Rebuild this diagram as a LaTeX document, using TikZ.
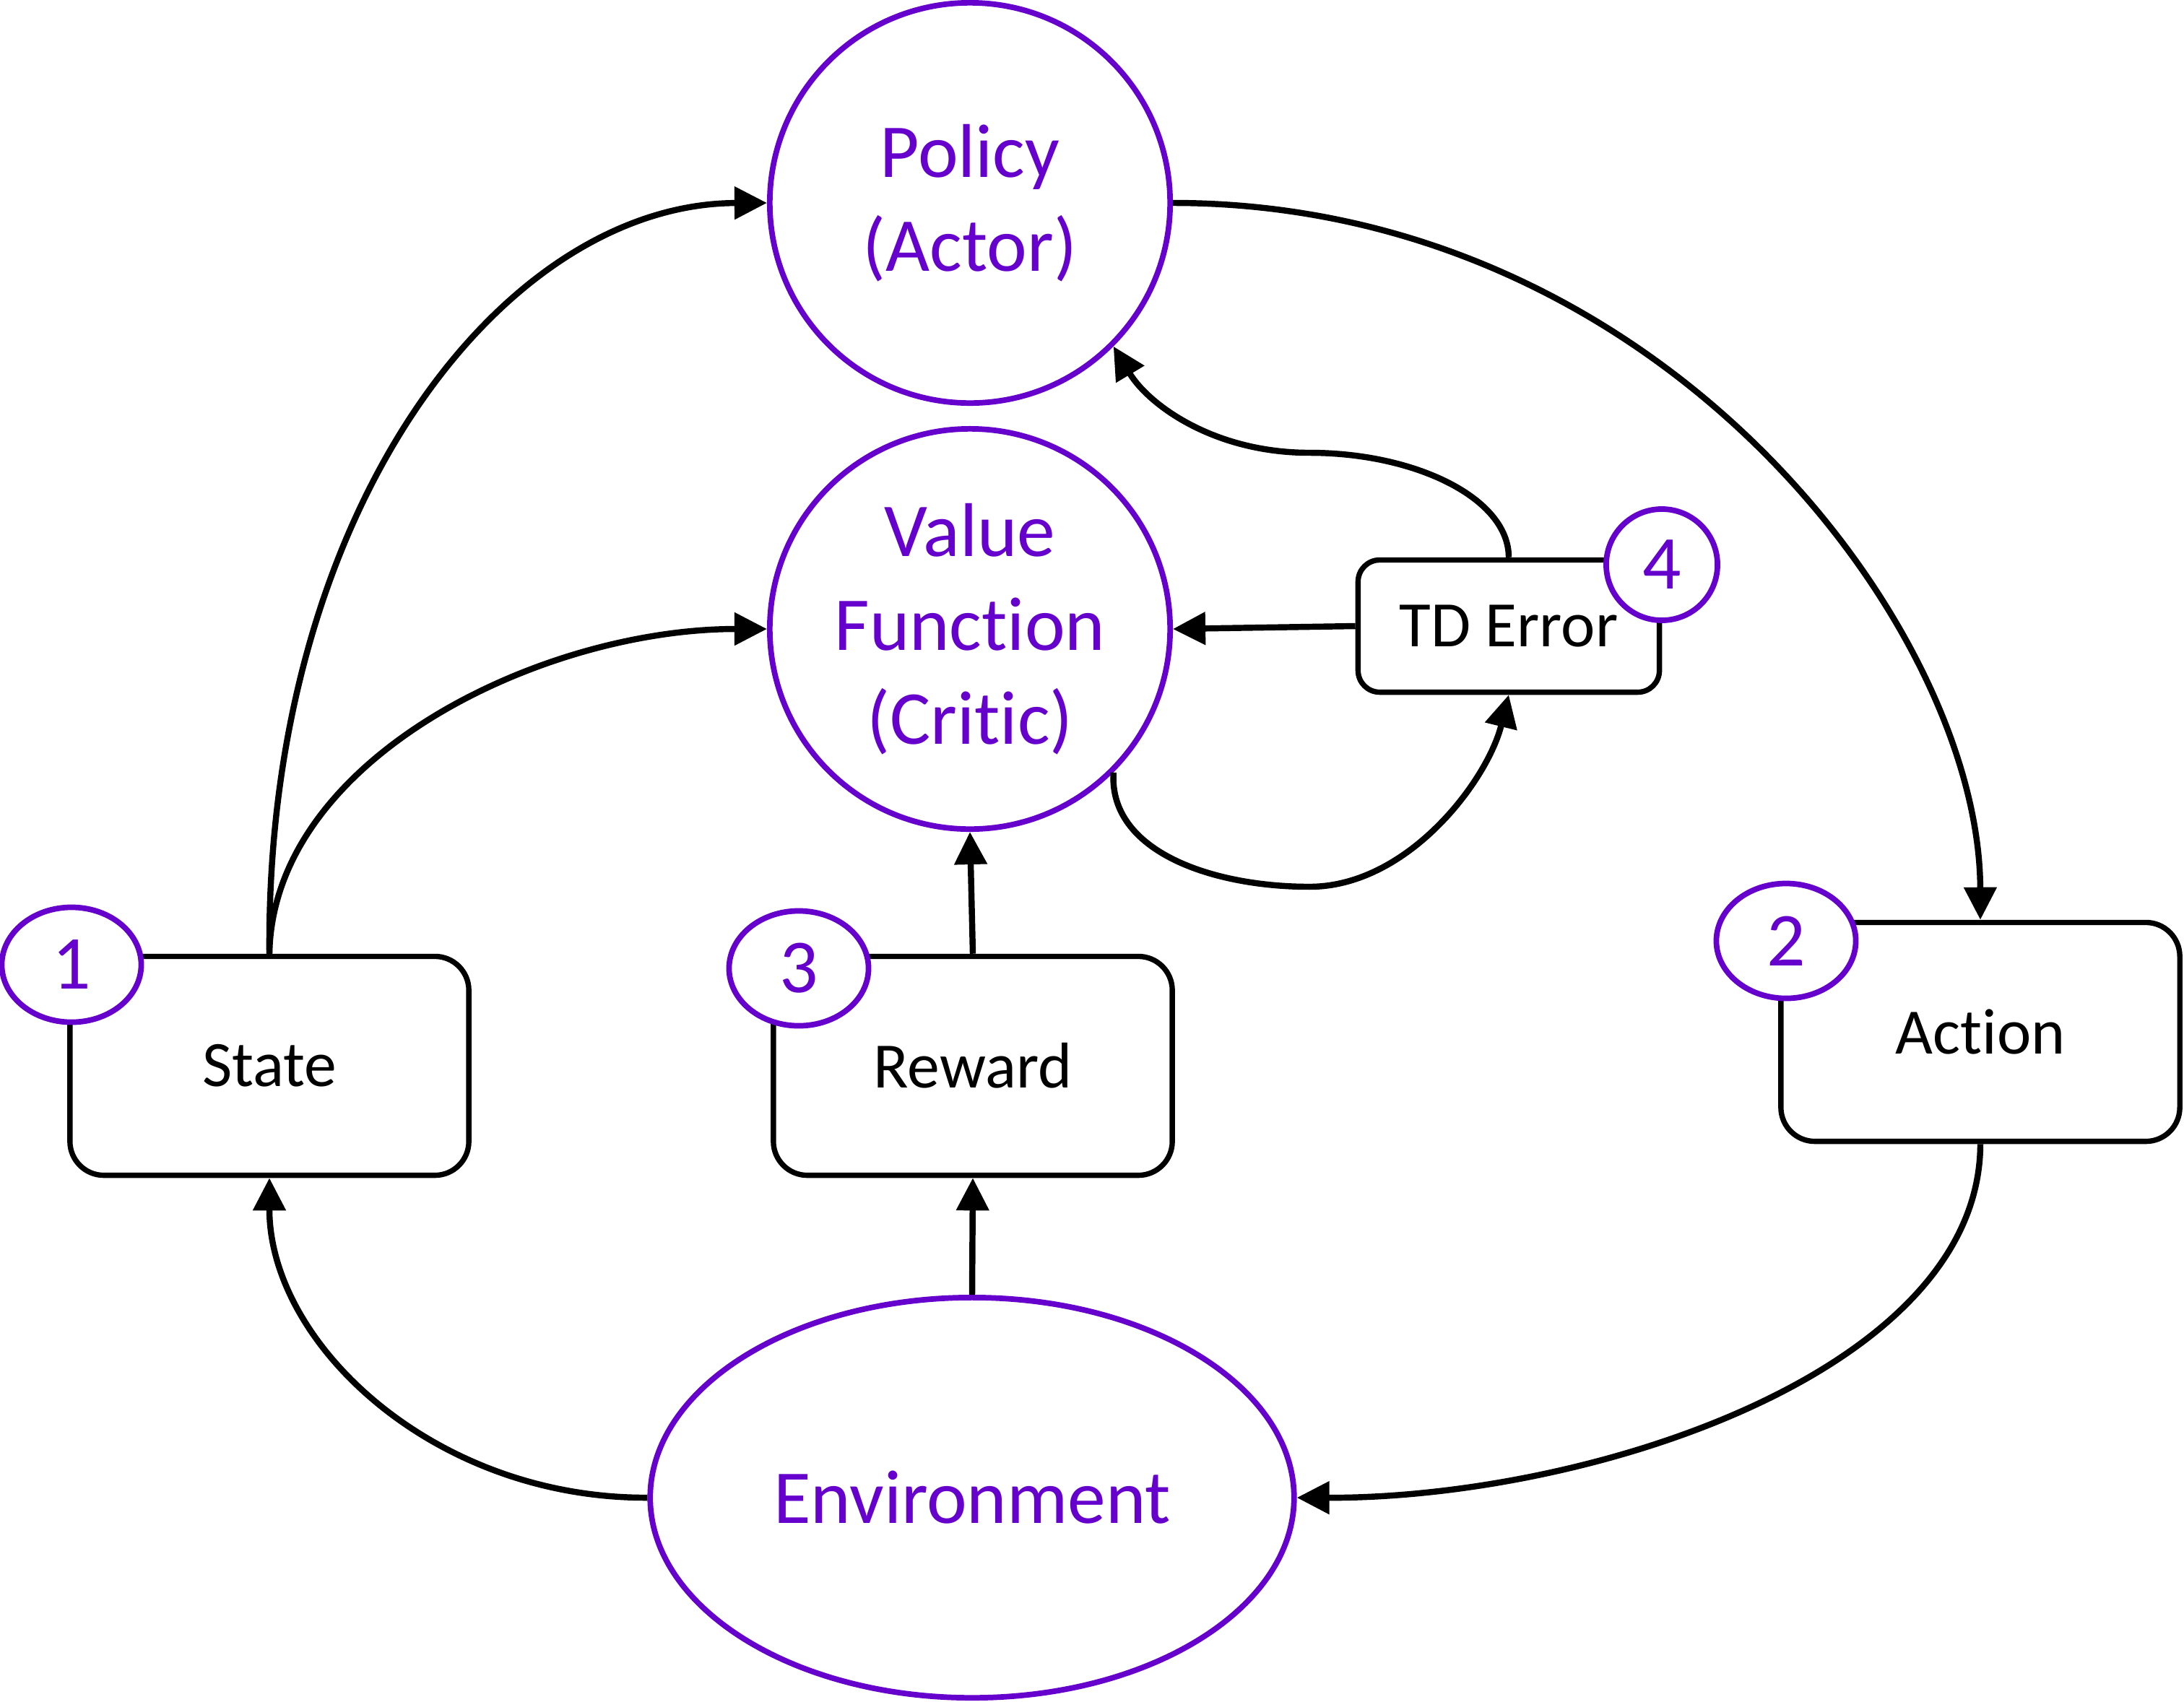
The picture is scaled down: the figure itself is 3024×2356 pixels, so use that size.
\documentclass[tikz,border=0pt]{standalone}
\usepackage{fontspec}
\setmainfont{Carlito}[Ligatures=CommonOff]
\usetikzlibrary{arrows.meta,shapes.geometric}
\definecolor{vio}{RGB}{102,0,204}
\begin{document}
\begin{tikzpicture}[x=0.01cm,y=-0.01cm,
  big/.style={circle,draw=vio,line width=2.2pt,text=vio,minimum size=5.54cm,inner sep=0pt,align=center,font=\fontsize{30}{37}\selectfont},
  env/.style={ellipse,draw=vio,line width=2.2pt,text=vio,minimum width=8.91cm,minimum height=5.54cm,inner sep=0pt,font=\fontsize{30}{37}\selectfont},
  box/.style={draw,line width=2.1pt,rounded corners=0.47cm,minimum width=5.52cm,minimum height=3.03cm,inner sep=0pt,font=\fontsize{25.5}{31}\selectfont},
  badge/.style={ellipse,draw=vio,fill=white,line width=2.2pt,text=vio,minimum width=1.93cm,minimum height=1.59cm,inner sep=0pt,font=\fontsize{30}{37}\selectfont},
  conn/.style={line width=2.4pt,-{Triangle[length=12.8pt,width=12.5pt]}}
]
\useasboundingbox (0,0) rectangle (3024,2356);
\node[big] (policy) at (1343,281) {Policy\\(Actor)};
\node[big] (value) at (1343,871) {Value\\Function\\(Critic)};
\node[env] (env) at (1346,2074) {Environment};
\node[box] (state) at (373,1476) {State};
\node[box] (reward) at (1347,1476) {Reward};
\node[box] (action) at (2742,1429) {Action};
\node[box,minimum width=4.17cm,minimum height=1.83cm,rounded corners=0.3cm] (td) at (2089,867) {TD Error};

\draw[conn] (state.north) .. controls (368,700) and (700,282) .. (policy.west);
\draw[conn] (state.north) .. controls (378,1050) and (750,871) .. (value.west);
\draw[conn] (policy.east) .. controls (2300,281) and (2741,870) .. (action.north);
\draw[conn] (action.south) .. controls (2741,1900) and (2200,2075) .. (env.east);
\draw[conn] (env.west) .. controls (600,2075) and (373,1860) .. (state.south);
\draw[conn] (env.north) -- (reward.south);
\draw[conn] (reward.north) -- (value.south);
\draw[conn] (td.west) -- (value.east);
\draw[conn] (value.-45) .. controls (1535,1180) and (1680,1228) .. (1813,1228) .. controls (1950,1228) and (2060,1080) .. (td.south);
\draw[conn] (td.north) .. controls (2089,690) and (1960,627) .. (1813,627) .. controls (1680,627) and (1590,560) .. (policy.-45);

\node[badge] (b1) at (99,1336) {1};
\node[badge] (b3) at (1106,1341) {3};
\node[badge] (b2) at (2473,1303) {2};
\node[badge,circle,minimum size=1.54cm] (b4) at (2301,782) {4};
\end{tikzpicture}
\end{document}
